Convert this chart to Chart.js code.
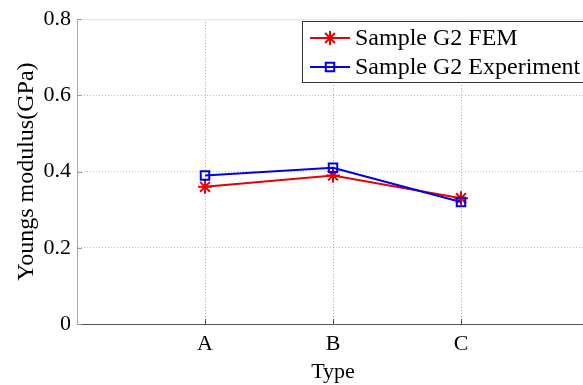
<!DOCTYPE html>
<html>
<head>
<meta charset="utf-8">
<script src="https://cdn.jsdelivr.net/npm/chart.js@4"></script>
<style>
  html, body { margin: 0; padding: 0; background: #fff; overflow: hidden; }
  #wrap { width: 583px; height: 385px; overflow: hidden; }
</style>
</head>
<body>
<div id="wrap"><canvas id="c" width="598" height="385"></canvas></div>
<script>
// data
const categories = ['A', 'B', 'C'];
const femValues = [0.36, 0.39, 0.33];
const expValues = [0.39, 0.41, 0.32];
const yTicks = [0, 0.2, 0.4, 0.6, 0.8];

const FONT = "'Liberation Serif', 'Times New Roman', serif";
const RED = 'rgb(235, 0, 0)';
const BLUE = 'rgb(0, 0, 235)';

// categories sit at x = 1, 2, 3 on a 0..4 axis (matlab style)
const toPoints = (vals) => vals.map((v, i) => ({ x: i + 1, y: v }));

// legend drawn by hand: line + marker, boxed, top right inside plot
const boxLegend = {
    id: 'boxLegend',
    afterDatasetsDraw(chart) {
        const ctx = chart.ctx;
        const left = 302, top = 21, rowH = 29;
        ctx.save();
        ctx.fillStyle = '#fff';
        ctx.fillRect(left, top, 320, 61);
        ctx.strokeStyle = '#333';
        ctx.lineWidth = 1;
        ctx.strokeRect(left + 0.5, top + 0.5, 320, 61);
        chart.data.datasets.forEach((ds, i) => {
            const y = top + 17 + i * rowH;
            ctx.strokeStyle = ds.borderColor;
            ctx.lineWidth = 2;
            ctx.beginPath();
            ctx.moveTo(left + 8, y);
            ctx.lineTo(left + 48, y);
            ctx.stroke();
            ctx.fillStyle = ds.pointBackgroundColor;
            ctx.strokeStyle = ds.pointBorderColor;
            ctx.lineWidth = ds.pointBorderWidth;
            Chart.helpers.drawPoint(ctx, {
                pointStyle: ds.pointStyle, radius: ds.pointRadius, rotation: 0, borderWidth: ds.pointBorderWidth
            }, left + 28, y);
            ctx.fillStyle = '#000';
            ctx.font = '24px ' + FONT;
            ctx.textBaseline = 'middle';
            ctx.fillText(ds.label, left + 53, y + 1);
        });
        ctx.restore();
    }
};

// light top border and inward tick marks of the axes box
const axesBox = {
    id: 'axesBox',
    beforeDatasetsDraw(chart) {
        const { ctx, chartArea, scales } = chart;
        ctx.save();
        ctx.strokeStyle = '#e4e4e4';
        ctx.lineWidth = 1;
        ctx.beginPath();
        ctx.moveTo(chartArea.left, chartArea.top + 0.5);
        ctx.lineTo(chartArea.right, chartArea.top + 0.5);
        ctx.stroke();
        ctx.strokeStyle = '#444';
        ctx.beginPath();
        [1, 2, 3].forEach((v) => {
            const x = Math.round(scales.x.getPixelForValue(v)) + 0.5;
            ctx.moveTo(x, chartArea.bottom);
            ctx.lineTo(x, chartArea.bottom - 5);
        });
        ctx.stroke();
        ctx.strokeStyle = '#999';
        ctx.beginPath();
        yTicks.forEach((v) => {
            const y = Math.round(scales.y.getPixelForValue(v)) + 0.5;
            ctx.moveTo(chartArea.left, y);
            ctx.lineTo(chartArea.left + 5, y);
        });
        ctx.stroke();
        ctx.restore();
    }
};

new Chart(document.getElementById('c'), {
    type: 'line',
    data: {
        datasets: [
            {
                label: 'Sample G2 FEM',
                data: toPoints(femValues),
                borderColor: RED,
                borderWidth: 2,
                pointStyle: 'star',
                pointRadius: 7,
                pointBorderWidth: 2,
                pointBorderColor: RED,
                pointBackgroundColor: RED,
                order: 2,
            },
            {
                label: 'Sample G2 Experiment',
                data: toPoints(expValues),
                borderColor: BLUE,
                borderWidth: 2,
                pointStyle: 'rect',
                pointRadius: 6,
                pointBorderWidth: 2,
                pointBorderColor: BLUE,
                pointBackgroundColor: 'rgba(0,0,0,0)',
                order: 1,
            },
        ],
    },
    options: {
        responsive: false,
        animation: false,
        layout: { padding: { top: 11, right: 0, left: 0, bottom: 0 } },
        plugins: {
            legend: { display: false },
            tooltip: { enabled: false },
        },
        scales: {
            x: {
                type: 'linear',
                min: 0,
                max: 4,
                afterFit: (s) => { s.height = 61; },
                afterBuildTicks: (s) => { s.ticks = [0, 1, 2, 3, 4].map((v) => ({ value: v })); },
                ticks: {
                    callback: (v) => categories[v - 1] || '',
                    font: { family: FONT, size: 22 },
                    color: '#000',
                    padding: 7,
                    maxRotation: 0,
                },
                grid: {
                    // dotted verticals at A, B, C only
                    color: (c) => (c.tick && c.tick.value > 0 && c.tick.value < 4 ? 'rgba(0,0,0,0.35)' : 'rgba(0,0,0,0)'),
                    lineWidth: 1,
                    drawTicks: false,
                },
                border: { display: true, color: '#555', width: 1, dash: [1, 2] },
                title: {
                    display: true,
                    text: 'Type',
                    font: { family: FONT, size: 22 },
                    color: '#000',
                    padding: { top: -4, bottom: 0 },
                },
            },
            y: {
                min: 0,
                max: 0.8,
                afterFit: (s) => { s.width = 77; },
                afterBuildTicks: (s) => { s.ticks = yTicks.map((v) => ({ value: v })); },
                ticks: {
                    font: { family: FONT, size: 22 },
                    color: '#000',
                    padding: 6,
                },
                grid: {
                    color: (c) => (c.tick && c.tick.value > 0 && c.tick.value < 0.8 ? 'rgba(0,0,0,0.25)' : 'rgba(0,0,0,0)'),
                    lineWidth: 1,
                    drawTicks: false,
                },
                border: { display: true, color: '#aaa', width: 1, dash: [1, 2] },
                title: {
                    display: true,
                    text: 'Youngs modulus(GPa)',
                    font: { family: FONT, size: 24 },
                    color: '#000',
                    padding: { top: 12, bottom: 0 },
                },
            },
        },
    },
    plugins: [axesBox, boxLegend],
});
</script>
</body>
</html>
